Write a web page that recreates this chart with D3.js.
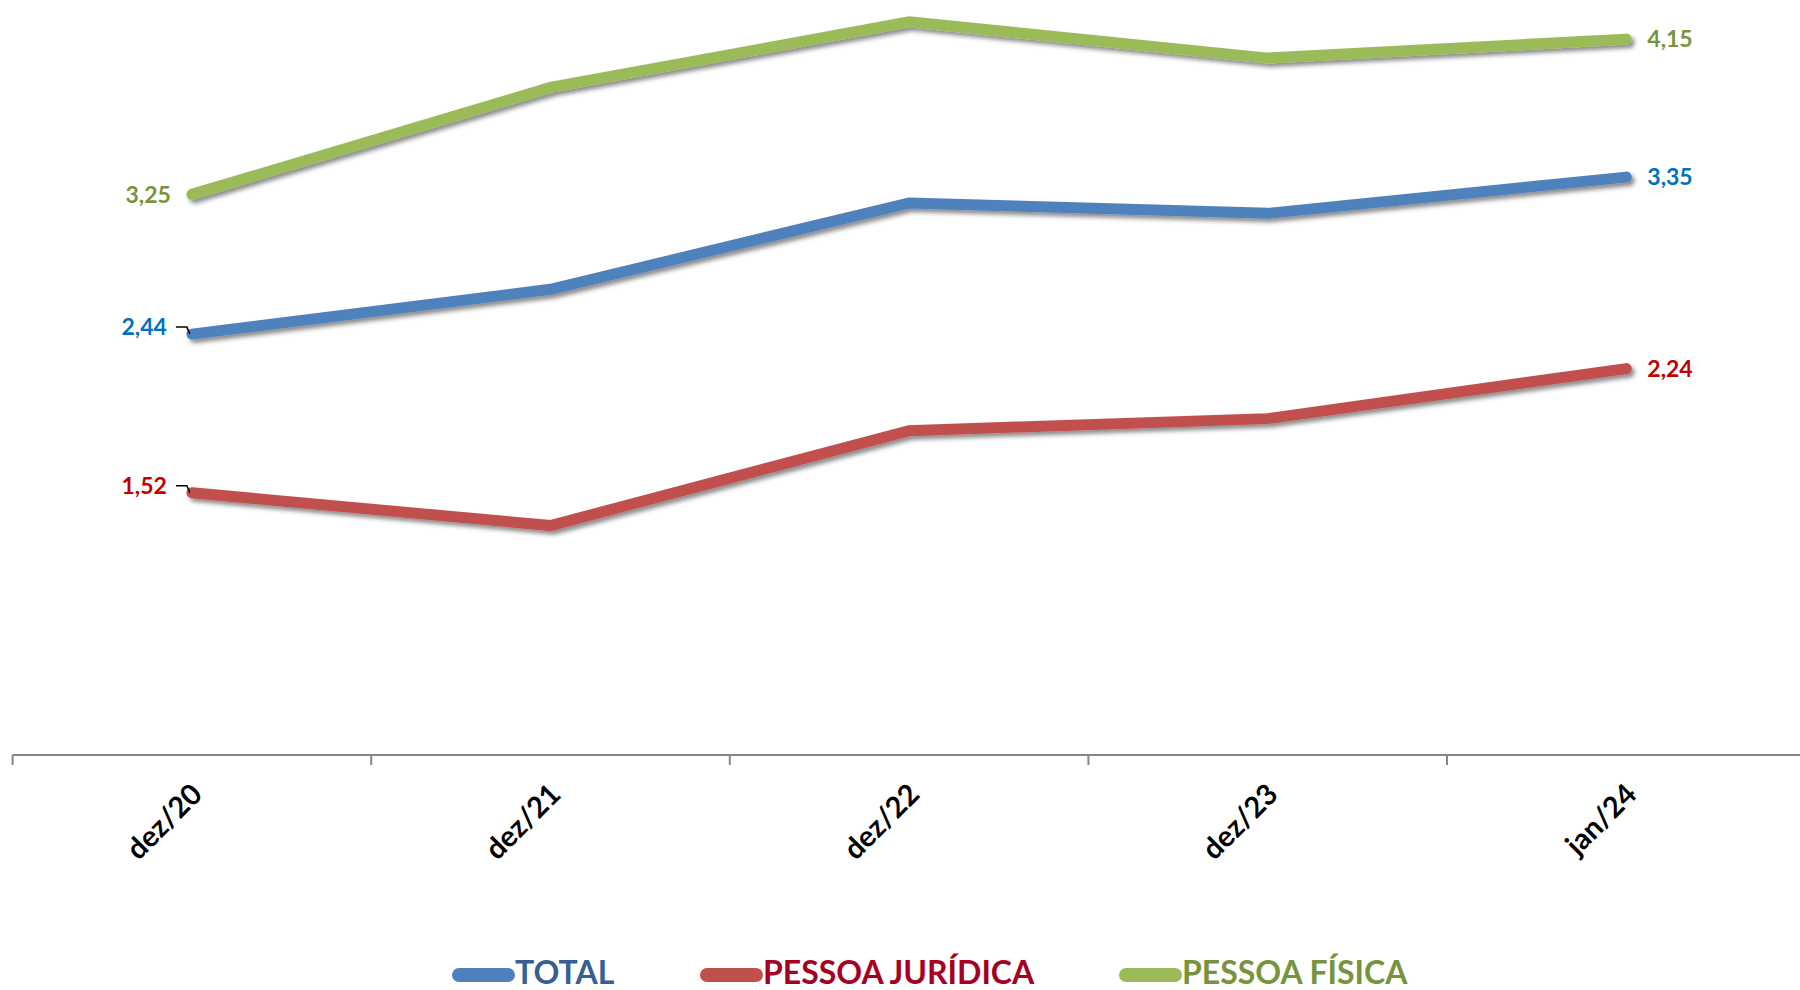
<!DOCTYPE html>
<html>
<head>
<meta charset="utf-8">
<script src="https://cdn.jsdelivr.net/npm/d3@7"></script>
<style>
  html, body { margin: 0; padding: 0; background: #fff; }
  svg { display: block; }
</style>
</head>
<body>
<svg id="chart" width="1800" height="990"></svg>
<script>
const categories = ["dez/20", "dez/21", "dez/22", "dez/23", "jan/24"];
const seriesNames = ["TOTAL", "PESSOA JURÍDICA", "PESSOA FÍSICA"];
const totalValues = [2.44, 2.70, 3.20, 3.14, 3.35];
const pjValues    = [1.52, 1.33, 1.88, 1.95, 2.24];
const pfValues    = [3.25, 3.87, 4.25, 4.04, 4.15];
const labelFirst  = ["2,44", "1,52", "3,25"];
const labelLast   = ["3,35", "2,24", "4,15"];

const series = [
  { name: seriesNames[0], values: totalValues, line: "#4F81BD", label: "#0070C0", legend: "#376092", first: labelFirst[0], last: labelLast[0], leader: true },
  { name: seriesNames[1], values: pjValues,    line: "#C0504D", label: "#C00000", legend: "#A50021", first: labelFirst[1], last: labelLast[1], leader: true },
  { name: seriesNames[2], values: pfValues,    line: "#9BBB59", label: "#77933C", legend: "#77933C", first: labelFirst[2], last: labelLast[2], leader: false }
];

const svg = d3.select("#chart");
const FONT = "Lato, 'Noto Sans', sans-serif";

const defs = svg.append("defs");
const f = defs.append("filter").attr("id", "shadow").attr("x", "-5%").attr("y", "-20%").attr("width", "110%").attr("height", "140%");
f.append("feDropShadow").attr("dx", 3).attr("dy", 3.5).attr("stdDeviation", 2.2).attr("flood-color", "#000").attr("flood-opacity", 0.45);

const axisY = 755;
const x = d3.scaleBand().domain(categories).range([12.6, 1805.6]).padding(0);
const y = d3.scaleLinear().domain([0, 4.4]).range([axisY, axisY - 4.4 * 172.5]);
const cx = c => x(c) + x.bandwidth() / 2;

// X axis
const axis = d3.axisBottom(x).tickSize(0).tickFormat("");
const gAxis = svg.append("g").attr("transform", `translate(0,${axisY})`).call(axis);
gAxis.select(".domain").attr("stroke", "#868686").attr("stroke-width", 2).attr("d", `M12.6,0H1800`);
// tick marks at band boundaries
gAxis.selectAll(".bnd").data(categories).enter().append("line")
  .attr("x1", d => x(d)).attr("x2", d => x(d)).attr("y1", 0).attr("y2", 10)
  .attr("stroke", "#868686").attr("stroke-width", 2);

// category labels
svg.append("g").selectAll("text").data(categories).enter().append("text")
  .attr("transform", d => `translate(${cx(d) + 12},${axisY + 41}) rotate(-45)`)
  .attr("text-anchor", "end")
  .attr("font-family", FONT).attr("font-weight", 700).attr("font-size", 29)
  .attr("fill", "#000")
  .text(d => d);

// lines
const line = d3.line().x((d, i) => cx(categories[i])).y(d => y(d));
svg.append("g").selectAll("path").data(series).enter().append("path")
  .attr("d", d => line(d.values))
  .attr("fill", "none")
  .attr("stroke", d => d.line)
  .attr("stroke-width", 11)
  .attr("stroke-linecap", "round")
  .attr("stroke-linejoin", "miter")
  .attr("filter", "url(#shadow)");

// data labels
const gl = svg.append("g");
series.forEach(s => {
  const x0 = cx(categories[0]), y0 = y(s.values[0]);
  const xn = cx(categories[categories.length - 1]), yn = y(s.values[s.values.length - 1]);
  gl.append("text")
    .attr("x", s.leader ? x0 - 25 : x0 - 21).attr("y", s.leader ? y0 - 7 : y0)
    .attr("dy", "0.36em")
    .attr("text-anchor", "end")
    .attr("font-family", FONT).attr("font-weight", 700).attr("font-size", 23)
    .attr("fill", s.label).text(s.first);
  if (s.leader) {
    gl.append("path")
      .attr("d", `M${x0 - 16},${y0 - 7}H${x0 - 5}L${x0 - 2},${y0}`)
      .attr("fill", "none").attr("stroke", "#000").attr("stroke-width", 1.5);
  }
  gl.append("text")
    .attr("x", xn + 21).attr("y", yn)
    .attr("dy", "0.36em")
    .attr("text-anchor", "start")
    .attr("font-family", FONT).attr("font-weight", 700).attr("font-size", 23)
    .attr("fill", s.label).text(s.last);
});

// legend
const legendPos = [452, 700, 1119];
const lg = svg.append("g");
series.forEach((s, i) => {
  const lx = legendPos[i];
  lg.append("line")
    .attr("x1", lx + 7).attr("x2", lx + 56).attr("y1", 975).attr("y2", 975)
    .attr("stroke", s.line).attr("stroke-width", 14).attr("stroke-linecap", "round");
  lg.append("text")
    .attr("x", lx + 63).attr("y", 984)
    .attr("font-family", FONT).attr("font-weight", 700).attr("font-size", 32)
    .attr("fill", s.legend).text(s.name);
});
</script>
</body>
</html>
